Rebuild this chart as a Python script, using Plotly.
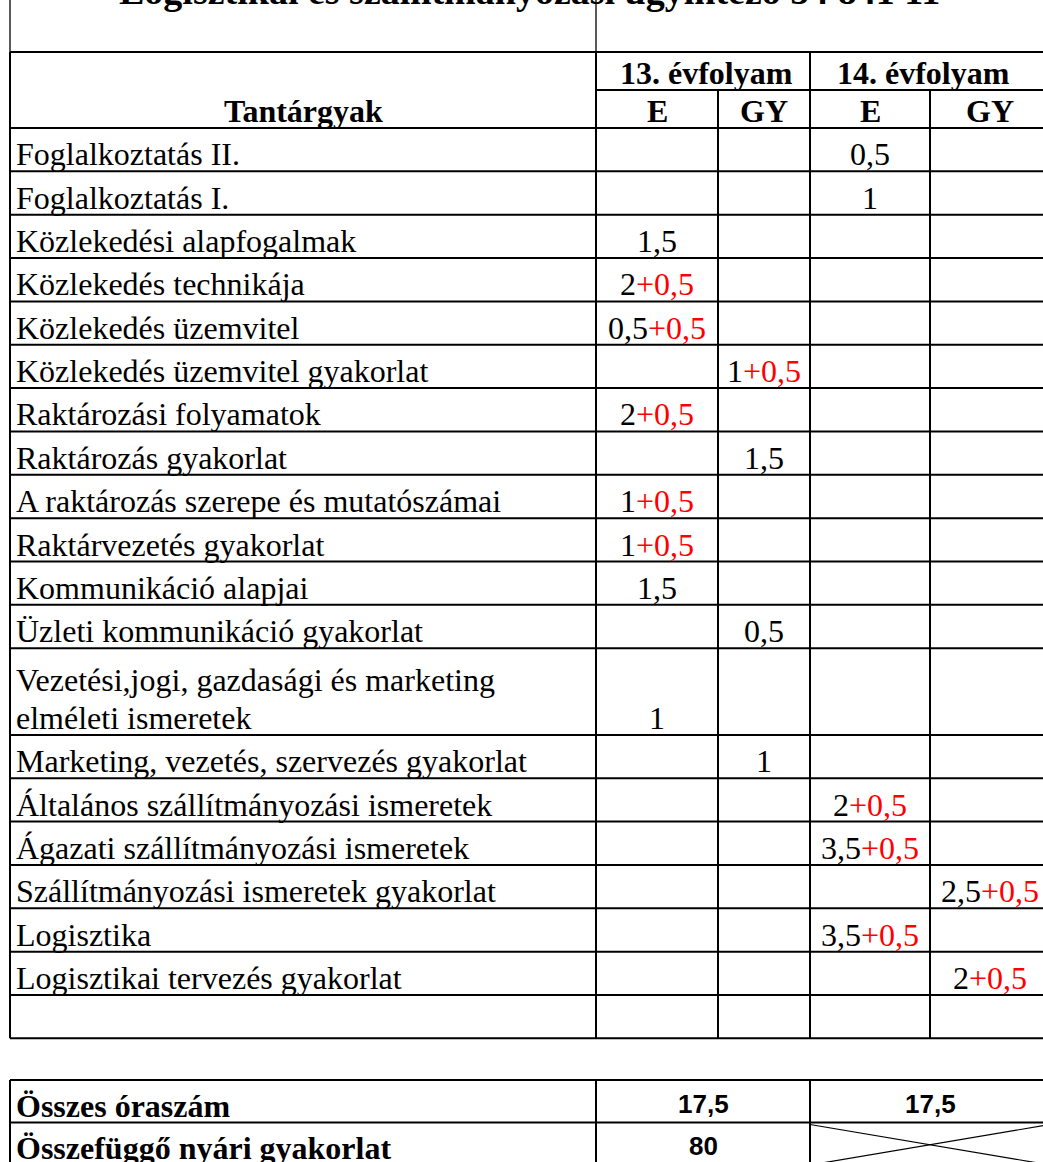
import plotly.graph_objects as go

# ---------------- data ----------------
title = "Logisztikai és szállítmányozási ügyintéző 54 841 11"
header_subject = "Tantárgyak"
header_years = ["13. évfolyam", "14. évfolyam"]
header_types = ["E", "GY", "E", "GY"]

subjects = [
    "Foglalkoztatás II.",
    "Foglalkoztatás I.",
    "Közlekedési alapfogalmak",
    "Közlekedés technikája",
    "Közlekedés üzemvitel",
    "Közlekedés üzemvitel gyakorlat",
    "Raktározási folyamatok",
    "Raktározás gyakorlat",
    "A raktározás szerepe és mutatószámai",
    "Raktárvezetés gyakorlat",
    "Kommunikáció alapjai",
    "Üzleti kommunikáció gyakorlat",
    "Vezetési,jogi, gazdasági és marketing<br>elméleti ismeretek",
    "Marketing, vezetés, szervezés gyakorlat",
    "Általános szállítmányozási ismeretek",
    "Ágazati szállítmányozási ismeretek",
    "Szállítmányozási ismeretek gyakorlat",
    "Logisztika",
    "Logisztikai tervezés gyakorlat",
    "",
]
e13 = ["", "", "1,5", "2+0,5", "0,5+0,5", "", "2+0,5", "", "1+0,5", "1+0,5",
       "1,5", "", "1", "", "", "", "", "", "", ""]
gy13 = ["", "", "", "", "", "1+0,5", "", "1,5", "", "",
        "", "0,5", "", "1", "", "", "", "", "", ""]
e14 = ["0,5", "1", "", "", "", "", "", "", "", "",
       "", "", "", "", "2+0,5", "3,5+0,5", "", "3,5+0,5", "", ""]
gy14 = ["", "", "", "", "", "", "", "", "", "",
        "", "", "", "", "", "", "2,5+0,5", "", "2+0,5", ""]

summary_labels = ["Összes óraszám", "Összefüggő nyári gyakorlat"]
summary_13 = ["17,5", "80"]
summary_14 = ["17,5", None]   # None -> crossed-out cell

# ---------------- layout constants ----------------
W, H = 1043, 1162
X_LEFT = 10
X_COLS = [596, 718, 810, 930, 1050]
Y_HEAD_TOP, Y_HEAD_MID, Y_HEAD_BOT = 52, 90, 128
ROW_H = 43.35
SUM_TOP, SUM_ROW_H = 1080, 42.5
SERIF = "Liberation Serif, Times New Roman, serif"
SANS = "Liberation Sans, Arial, sans-serif"
FS = 32
LW = 2
TEXT_OFF = 17   # distance of text centre above the row's bottom line
LINE_GAP = 38

shapes = []
ann = []


def hline(x0, x1, y, w=LW):
    shapes.append(dict(type="line", xref="x", yref="y", x0=x0, x1=x1, y0=y, y1=y,
                       line=dict(color="black", width=w), layer="above"))


def vline(x, y0, y1, w=LW):
    shapes.append(dict(type="line", xref="x", yref="y", x0=x, x1=x, y0=y0, y1=y1,
                       line=dict(color="black", width=w), layer="above"))


def text(x, y, s, size=FS, bold=False, family=SERIF, xanchor="center"):
    if bold:
        s = "<b>" + s + "</b>"
    ann.append(dict(x=x, y=y, xref="x", yref="y", text=s, showarrow=False,
                    xanchor=xanchor, yanchor="middle",
                    font=dict(family=family, size=size, color="black")))


def value_markup(v):
    if "+" in v:
        base, extra = v.split("+", 1)
        return base + '<span style="color:#ff0000">+' + extra + "</span>"
    return v


# row geometry from subjects (double row where there is a line break)
row_units = [1 + s.count("<br>") for s in subjects]
row_edges = [Y_HEAD_BOT]
for u in row_units:
    row_edges.append(row_edges[-1] + u * ROW_H)
Y_BOT = row_edges[-1]

# title (cut off at top of the page)
ann.append(dict(x=0.508, y=1 + 9 / H, xref="paper", yref="paper", text="<b>" + title + "</b>",
                showarrow=False, xanchor="center", yanchor="middle",
                font=dict(family=SERIF, size=38, color="black")))

# top open cell
vline(X_LEFT, 0, Y_HEAD_TOP, 1.3)
vline(X_COLS[0], 0, Y_HEAD_TOP, 1.3)

# horizontal lines of main table
hline(X_LEFT, W + 10, Y_HEAD_TOP)
hline(X_COLS[0], W + 10, Y_HEAD_MID)
for y in row_edges:
    hline(X_LEFT, W + 10, y)
# vertical lines
vline(X_LEFT, Y_HEAD_TOP, Y_BOT)
vline(X_COLS[0], Y_HEAD_TOP, Y_BOT)
vline(X_COLS[2], Y_HEAD_TOP, Y_BOT)
vline(X_COLS[1], Y_HEAD_MID, Y_BOT)
vline(X_COLS[3], Y_HEAD_MID, Y_BOT)

# header texts
text((X_LEFT + X_COLS[0]) / 2, Y_HEAD_BOT - TEXT_OFF, header_subject, bold=True)
text(706, Y_HEAD_MID - TEXT_OFF, header_years[0], bold=True)
text(923, Y_HEAD_MID - TEXT_OFF, header_years[1], bold=True)
for i, t in enumerate(header_types):
    text((X_COLS[i] + X_COLS[i + 1]) / 2, Y_HEAD_BOT - TEXT_OFF, t, bold=True)

# body
cols = [e13, gy13, e14, gy14]
for r, subj in enumerate(subjects):
    bottom = row_edges[r + 1]
    lines = subj.split("<br>") if subj else []
    for k, ln in enumerate(reversed(lines)):
        text(X_LEFT + 4, bottom - TEXT_OFF - k * LINE_GAP, ln, xanchor="left")
    for c, col in enumerate(cols):
        v = col[r]
        if v:
            text((X_COLS[c] + X_COLS[c + 1]) / 2, bottom - TEXT_OFF, value_markup(v))

# summary table
sum_edges = [SUM_TOP + i * SUM_ROW_H for i in range(len(summary_labels) + 1)]
for y in sum_edges:
    hline(X_LEFT, W + 10, y)
for x in [X_LEFT, X_COLS[0], X_COLS[2]]:
    vline(x, SUM_TOP, sum_edges[-1])
for r, lab in enumerate(summary_labels):
    top, bottom = sum_edges[r], sum_edges[r + 1]
    text(X_LEFT + 4, bottom - TEXT_OFF, lab, bold=True, xanchor="left")
    text((X_COLS[0] + X_COLS[2]) / 2, bottom - TEXT_OFF - 2, summary_13[r], size=26,
         bold=True, family=SANS)
    if summary_14[r] is None:
        shapes.append(dict(type="line", xref="x", yref="y", x0=X_COLS[2], x1=X_COLS[4],
                           y0=top + 2, y1=bottom, line=dict(color="black", width=1.2), layer="above"))
        shapes.append(dict(type="line", xref="x", yref="y", x0=X_COLS[2], x1=X_COLS[4],
                           y0=bottom, y1=top + 2, line=dict(color="black", width=1.2), layer="above"))
    else:
        text((X_COLS[2] + X_COLS[4]) / 2, bottom - TEXT_OFF - 2, summary_14[r], size=26,
             bold=True, family=SANS)

fig = go.Figure()
fig.add_trace(go.Scatter(x=[0, W], y=[0, H], mode="markers",
                         marker=dict(opacity=0), hoverinfo="skip", showlegend=False))
fig.update_layout(
    width=W, height=H,
    margin=dict(l=0, r=0, t=0, b=0),
    paper_bgcolor="white", plot_bgcolor="white",
    xaxis=dict(range=[0, W], visible=False, fixedrange=True),
    yaxis=dict(range=[H, 0], visible=False, fixedrange=True),
    shapes=shapes, annotations=ann, showlegend=False,
)
fig.write_html("out.html", config={"displayModeBar": False},
               post_script="document.body.style.margin='0';")
